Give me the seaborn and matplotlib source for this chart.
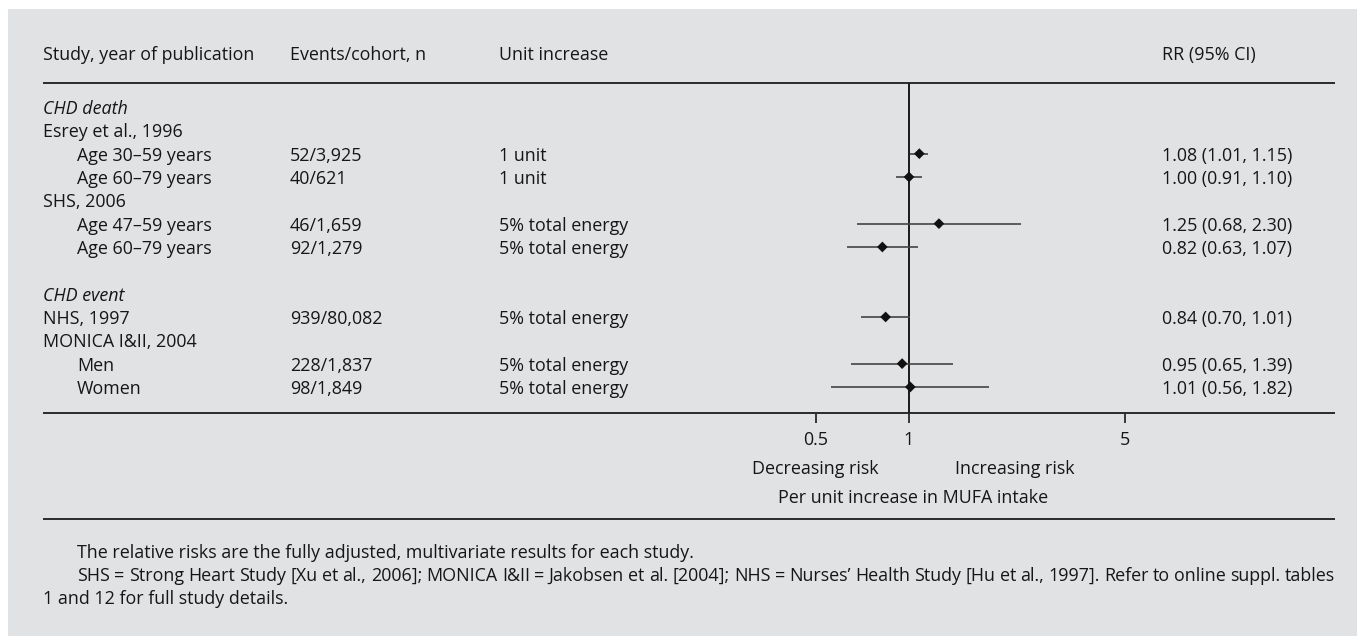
import numpy as np
import pandas as pd
import matplotlib
matplotlib.use("Agg")
import matplotlib.pyplot as plt
from matplotlib.patches import Rectangle
import seaborn as sns

# ---- data -------------------------------------------------------------
headers = ["Study, year of publication", "Events/cohort, n", "Unit increase", "RR (95% CI)"]

group_labels = ["CHD death", "Esrey et al., 1996", "SHS, 2006", "CHD event", "MONICA I&II, 2004"]
group_rows = [0, 1, 4, 8, 10]
group_italic = [True, False, False, True, False]

study_labels = ["Age 30–59 years", "Age 60–79 years", "Age 47–59 years", "Age 60–79 years",
                "NHS, 1997", "Men", "Women"]
study_rows = [2, 3, 5, 6, 9, 11, 12]
study_indent = [True, True, True, True, False, True, True]
events = ["52/3,925", "40/621", "46/1,659", "92/1,279", "939/80,082", "228/1,837", "98/1,849"]
units = ["1 unit", "1 unit", "5% total energy", "5% total energy", "5% total energy",
         "5% total energy", "5% total energy"]
rr = [1.08, 1.00, 1.25, 0.82, 0.84, 0.95, 1.01]
ci_low = [1.01, 0.91, 0.68, 0.63, 0.70, 0.65, 0.56]
ci_high = [1.15, 1.10, 2.30, 1.07, 1.01, 1.39, 1.82]

x_ticks = [0.5, 1, 5]
x_ticklabels = ["0.5", "1", "5"]

footnotes = [
    "The relative risks are the fully adjusted, multivariate results for each study.",
    "SHS = Strong Heart Study [Xu et al., 2006]; MONICA I&II = Jakobsen et al. [2004]; "
    "NHS = Nurses’ Health Study [Hu et al., 1997]. Refer to online suppl. tables",
    "1 and 12 for full study details.",
]

df = pd.DataFrame({"row": study_rows, "rr": rr, "lo": ci_low, "hi": ci_high})

# ---- style ------------------------------------------------------------
sns.set_theme(style="white")
plt.rcParams["font.family"] = ["Open Sans", "DejaVu Sans"]
TXT = "#161616"
PANEL = "#e1e2e4"
FS = 12.9

W, H = 1357, 636
fig = plt.figure(figsize=(W / 100, H / 100), dpi=100, facecolor="white")

# overlay in pixel coordinates for the table text and rules
ax0 = fig.add_axes([0, 0, 1, 1])
ax0.set_xlim(0, W)
ax0.set_ylim(H, 0)
ax0.axis("off")
ax0.add_patch(Rectangle((8, 9), W - 8, H - 9, facecolor=PANEL, edgecolor="none", zorder=0))

ROW0, ROWH = 107, 23.33
TEXT_DY = 2.0                      # optical offset of the text baseline
def row_y(i):
    return ROW0 + ROWH * i

X_STUDY, X_INDENT, X_EVENTS, X_UNIT, X_RR = 43, 77, 290, 499, 1162
RULE_L, RULE_R = 43, 1335

def put(x, y, s, **kw):
    kw.setdefault("ha", "left")
    return ax0.text(x, y + TEXT_DY, s, fontsize=FS, color=TXT, va="center", **kw)

# headers
for x, h in zip([X_STUDY, X_EVENTS, X_UNIT, X_RR], headers):
    put(x, 53, h)

# horizontal rules
for y in [82.5, 413, 519]:
    ax0.plot([RULE_L, RULE_R], [y, y], color="#2a2a2a", lw=1.4, solid_capstyle="butt", zorder=3)

# group headings
for lab, r, it in zip(group_labels, group_rows, group_italic):
    put(X_STUDY, row_y(r), lab, style="italic" if it else "normal")

# study rows
for i in range(len(study_labels)):
    y = row_y(study_rows[i])
    put(X_INDENT if study_indent[i] else X_STUDY, y, study_labels[i])
    put(X_EVENTS, y, events[i])
    put(X_UNIT, y, units[i])
    put(X_RR, y, f"{rr[i]:.2f} ({ci_low[i]:.2f}, {ci_high[i]:.2f})")

# axis captions
put(815, 467, "Decreasing risk", ha="center")
put(1015, 467, "Increasing risk", ha="center")
put(913, 496, "Per unit increase in MUFA intake", ha="center")

# footnotes (second line justified to the rule width)
put(X_INDENT, 551, footnotes[0])
put(X_STUDY, 597, footnotes[2])
renderer = fig.canvas.get_renderer()
words = footnotes[1].split(" ")
word_objs = [put(0, 574, w) for w in words]
widths = [t.get_window_extent(renderer).width for t in word_objs]
gap = (RULE_R - X_INDENT - sum(widths)) / (len(words) - 1)
xpos = X_INDENT
for t, wdt in zip(word_objs, widths):
    t.set_x(xpos)
    xpos += wdt + gap

# ---- forest plot axes -------------------------------------------------
X_ONE, DECADE = 909, 309          # pixel of RR = 1 and pixels per log10 decade
PL, PR, PT, PB = 700, 1335, 82.5, 413
ax = fig.add_axes([PL / W, (H - PB) / H, (PR - PL) / W, (PB - PT) / H])
ax.patch.set_alpha(0)
ax.set_xscale("log")
ax.set_xlim(10 ** ((PL - X_ONE) / DECADE), 10 ** ((PR - X_ONE) / DECADE))
ax.set_ylim((PB - ROW0) / ROWH, (PT - ROW0) / ROWH)
for s in ax.spines.values():
    s.set_visible(False)

ax.axvline(1, color="#1a1a1a", lw=1.4, zorder=2)
ax.hlines(df["row"], df["lo"], df["hi"], color="#444444", lw=1.2, zorder=3)
sns.scatterplot(data=df, x="rr", y="row", marker="D", s=30, color="#111111",
                edgecolor="none", ax=ax, zorder=4, legend=False)

ax.set_xticks(x_ticks)
ax.set_xticklabels(x_ticklabels)
ax.xaxis.set_minor_locator(matplotlib.ticker.NullLocator())
ax.tick_params(axis="x", bottom=True, length=7.3, width=1.3, color="#2a2a2a",
               direction="out", pad=5.5, labelsize=FS, labelcolor=TXT)
ax.set_yticks([])
ax.set_xlabel("")
ax.set_ylabel("")

fig.savefig("out.png", dpi=100, facecolor="white")
